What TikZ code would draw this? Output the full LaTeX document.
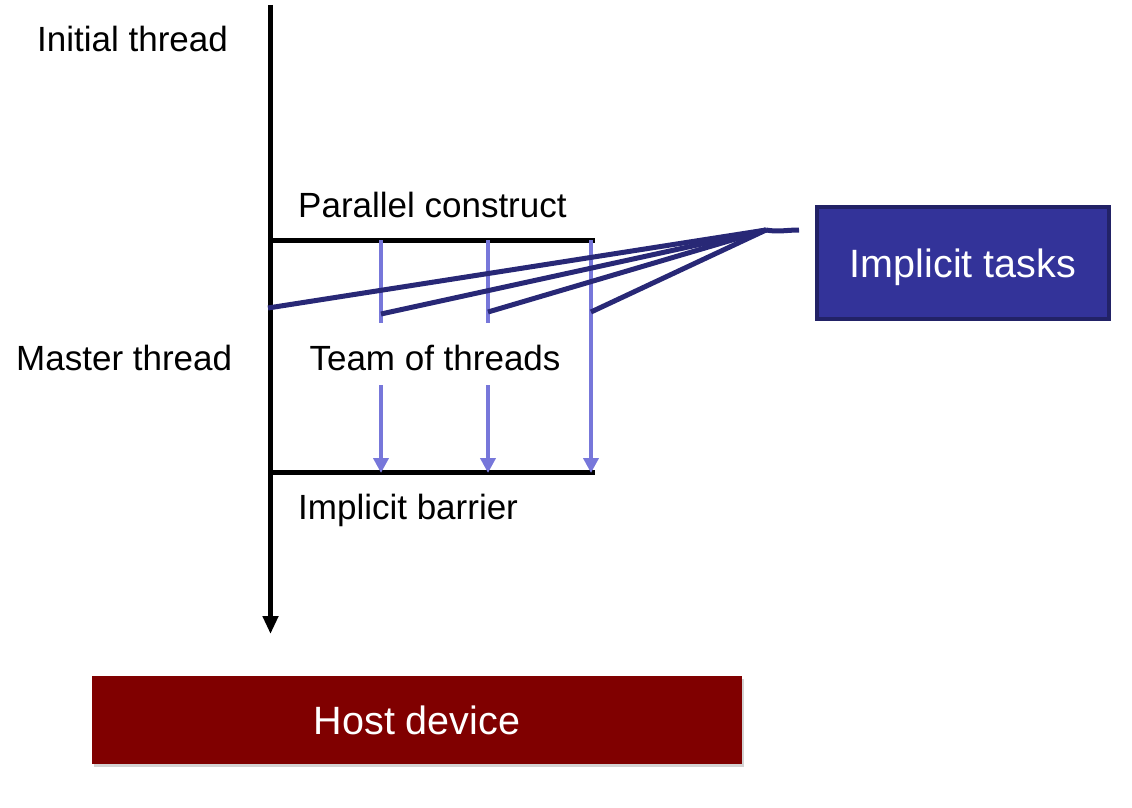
\documentclass[tikz,border=0pt]{standalone}
\usepackage{fontspec}
\setmainfont{Liberation Sans}
\usetikzlibrary{arrows.meta,shadows}
\definecolor{navyline}{RGB}{40,40,118}
\definecolor{teamblue}{RGB}{119,119,218}
\definecolor{taskfill}{RGB}{51,51,153}
\definecolor{taskborder}{RGB}{34,34,102}
\definecolor{hostred}{RGB}{128,0,0}
\tikzset{
  lbl/.style={inner sep=0pt, font=\fontsize{35}{42}\selectfont},
  blackline/.style={line width=5pt, black},
  teamline/.style={line width=4.5pt, teamblue},
  teamarrow/.style={line width=4.5pt, teamblue, -{Triangle[width=15pt,length=15pt]}},
  taskline/.style={line width=5pt, navyline, line join=round},
  boxtext/.style={font=\fontsize{39.5}{46}\selectfont, text=white}
}
\begin{document}
\begin{tikzpicture}[x=1pt,y=-1pt]
\useasboundingbox (0,0) rectangle (1132,808);
% labels
\node[lbl, anchor=west] (initial) at (37,39) {Initial thread};
\node[lbl, anchor=west] (master) at (16,358) {Master thread};
\node[lbl, anchor=west] (parallel) at (298,205) {Parallel construct};
\node[lbl] (team) at (435,358) {Team of threads};
\node[lbl, anchor=west] (barrier) at (298,510) {Implicit barrier};
% boxes
\node[draw=taskborder, line width=3.5pt, fill=taskfill, minimum width=292pt, minimum height=112pt, boxtext] (tasks) at (963,263) {\raisebox{-4pt}[\height][\depth]{Implicit tasks}};
\node[fill=hostred, minimum width=650pt, minimum height=88pt, boxtext, drop shadow={shadow xshift=2pt, shadow yshift=-3pt, opacity=0.35, fill=gray}] (host) at (417,720) {Host device};
% coordinates
\coordinate (top) at (270.5,5);
\coordinate (bottom) at (270.5,634);
\coordinate (pl) at (268,240);
\coordinate (pr) at (595,240);
\coordinate (bl) at (268,472);
\coordinate (br) at (595,472);
\coordinate (t1a) at (381,240); \coordinate (t1b) at (381,323);
\coordinate (t1c) at (381,385); \coordinate (t1d) at (381,473);
\coordinate (t2a) at (488,240); \coordinate (t2b) at (488,323);
\coordinate (t2c) at (488,385); \coordinate (t2d) at (488,473);
\coordinate (t3a) at (591,240); \coordinate (t3d) at (591,473);
\coordinate (s0) at (268,308);
\coordinate (s1) at (381,314);
\coordinate (s2) at (488,312);
\coordinate (s3) at (591,312);
\coordinate (conv) at (766,230);
\coordinate (tip) at (799,230);
% main thread
\draw[blackline, -{Triangle[width=15pt,length=18pt]}] (top) -- (bottom);
\draw[blackline] (pl) -- (pr);
\draw[blackline] (bl) -- (br);
% team threads
\draw[teamline] (t1a) -- (t1b);
\draw[teamline] (t2a) -- (t2b);
\draw[teamarrow] (t1c) -- (t1d);
\draw[teamarrow] (t2c) -- (t2d);
\draw[teamarrow] (t3a) -- (t3d);
% implicit task lines
\draw[taskline] (s0) -- (conv);
\draw[taskline] (s1) -- (conv);
\draw[taskline] (s2) -- (conv);
\draw[taskline] (s3) -- (conv);
\draw[taskline] (conv) to[out=-10,in=180] (tip);
\end{tikzpicture}
\end{document}
